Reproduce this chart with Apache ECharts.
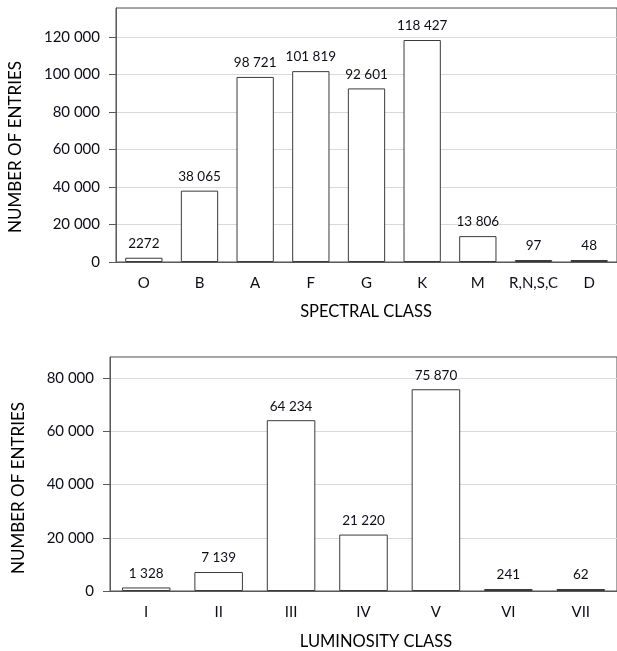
<!DOCTYPE html>
<html>
<head>
<meta charset="utf-8">
<script src="https://cdn.jsdelivr.net/npm/echarts@6/dist/echarts.min.js"></script>
<style>html,body{margin:0;padding:0;background:#fff}#c{width:617px;height:651px}</style>
</head>
<body>
<div id="c"></div>
<script>
const spectralClasses = ['O', 'B', 'A', 'F', 'G', 'K', 'M', 'R,N,S,C', 'D'];
const spectralCounts = [2272, 38065, 98721, 101819, 92601, 118427, 13806, 97, 48];
const luminosityClasses = ['I', 'II', 'III', 'IV', 'V', 'VI', 'VII'];
const luminosityCounts = [1328, 7139, 64234, 21220, 75870, 241, 62];
const spectralTicks = [0, 20000, 40000, 60000, 80000, 100000, 120000];
const luminosityTicks = [0, 20000, 40000, 60000, 80000];

const FONT = 'Lato';
const TXT = '#0d0d1a';
function grp(v, always) {
  const s = String(v);
  if (!always && v < 10000) return s;
  return s.replace(/\B(?=(\d{3})+(?!\d))/g, ' ');
}
function yAxisCfg(grid, max, ticks) {
  return {
    type: 'value', gridIndex: grid, min: 0, max: max, interval: 20000,
    axisLine: { show: true, lineStyle: { color: '#595959', width: 1 } },
    axisTick: { show: true, length: 7, lineStyle: { color: '#595959' }, customValues: ticks },
    axisLabel: { fontFamily: FONT, fontSize: 15, color: TXT, margin: 16, customValues: ticks,
      formatter: v => grp(v, true) },
    splitLine: { show: true, lineStyle: { color: '#d9d9d9', width: 1 } }
  };
}
function xAxisCfg(grid, cats) {
  return {
    type: 'category', gridIndex: grid, data: cats,
    axisLine: { show: true, lineStyle: { color: '#595959', width: 1 } },
    axisTick: { show: false },
    axisLabel: { interval: 0, fontFamily: FONT, fontSize: 15, color: TXT, margin: 14 }
  };
}
function barSeries(idx, data, always) {
  return {
    type: 'bar', xAxisIndex: idx, yAxisIndex: idx, data: data,
    barCategoryGap: '33%', barMinHeight: 2,
    itemStyle: { color: '#ffffff', borderColor: '#3a3a3a', borderWidth: 1 },
    label: { show: true, position: 'top', distance: 7, fontFamily: FONT, fontSize: 13.5, color: TXT,
      formatter: p => grp(p.value, always) },
    silent: true
  };
}
const chart = echarts.init(document.getElementById('c'), null, { renderer: 'canvas' });
chart.setOption({
  animation: false,
  grid: [
    { left: 116, right: 0, top: 8, height: 254, show: true, borderColor: '#4d4d4d', borderWidth: 1, backgroundColor: 'transparent' },
    { left: 110, right: -3, top: 357, height: 234, show: true, borderColor: '#4d4d4d', borderWidth: 1, backgroundColor: 'transparent' }
  ],
  xAxis: [xAxisCfg(0, spectralClasses), xAxisCfg(1, luminosityClasses)],
  yAxis: [yAxisCfg(0, 135500, spectralTicks), yAxisCfg(1, 88000, luminosityTicks)],
  series: [barSeries(0, spectralCounts, false), barSeries(1, luminosityCounts, true)],
  graphic: [
    { type: 'text', x: 16, y: 147, rotation: Math.PI / 2,
      style: { text: 'NUMBER OF ENTRIES', fontFamily: FONT, fontSize: 17, fill: '#000', align: 'center', verticalAlign: 'middle' } },
    { type: 'text', x: 19, y: 488, rotation: Math.PI / 2,
      style: { text: 'NUMBER OF ENTRIES', fontFamily: FONT, fontSize: 17, fill: '#000', align: 'center', verticalAlign: 'middle' } },
    { type: 'text', x: 366, y: 312,
      style: { text: 'SPECTRAL CLASS', fontFamily: FONT, fontSize: 16.5, fill: '#000', align: 'center', verticalAlign: 'middle' } },
    { type: 'text', x: 376, y: 642,
      style: { text: 'LUMINOSITY CLASS', fontFamily: FONT, fontSize: 16.5, fill: '#000', align: 'center', verticalAlign: 'middle' } }
  ]
});
</script>
</body>
</html>
